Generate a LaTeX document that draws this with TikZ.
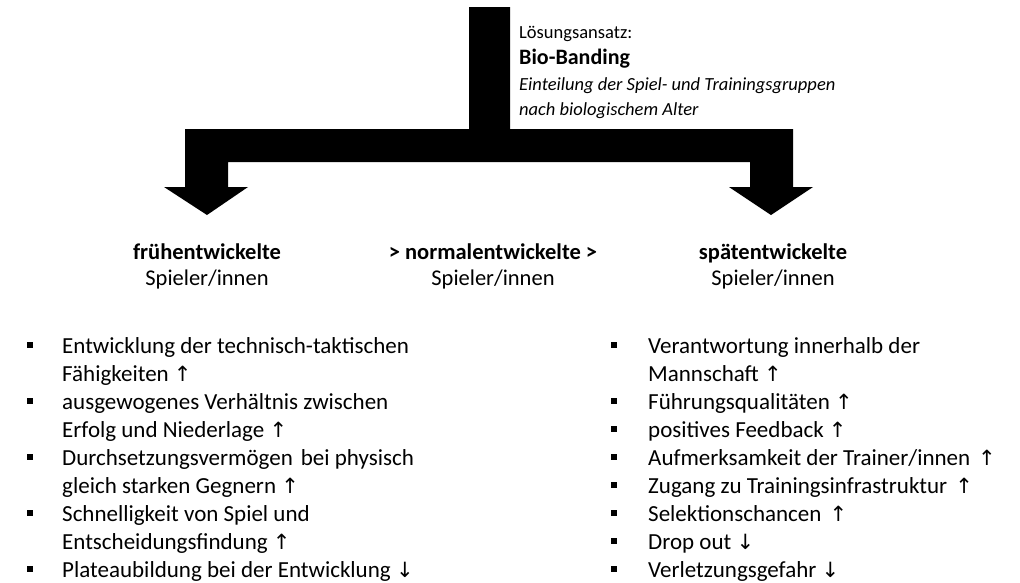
\documentclass[tikz,border=0pt]{standalone}
\usepackage{fontspec}
\setmainfont{Carlito}
\newfontfamily\arrowfont{DejaVu Sans}
\newcommand{\arrUp}{{\arrowfont\fontsize{21}{21}\selectfont\char"2191}}
\newcommand{\arrDn}{{\arrowfont\fontsize{21}{21}\selectfont\char"2193}}
\tikzset{
  lst/.style={anchor=base west, inner sep=0pt, font=\fontsize{23}{27}\selectfont},
  bul/.style={fill=black, minimum size=6.5pt, inner sep=0pt},
  lbl/.style={anchor=base, inner sep=0pt, font=\fontsize{22.5}{27}\selectfont},
  headtxt/.style={anchor=base west, inner sep=0pt, font=\fontsize{18.5}{22}\selectfont},
  bigarrow/.style={fill=black},
}
\begin{document}
\begin{tikzpicture}[x=1pt,y=-1pt]
\useasboundingbox (0,0) rectangle (1020,582);
% T-shaped splitting arrow
\fill[bigarrow] (469,7) -- (510,7) -- (510,129) -- (793,129) -- (793,187) -- (813,187)
  -- (771,215) -- (729,187) -- (750,187) -- (750,162) -- (228,162) -- (228,187)
  -- (248,187) -- (207,215) -- (164,187) -- (185,187) -- (185,129) -- (469,129) -- cycle;
% heading text
\node[headtxt] (h1) at (519,38) {Lösungsansatz:};
\node[headtxt, font=\fontsize{22}{26}\selectfont\bfseries] (h2) at (519,64) {Bio-Banding};
\node[headtxt, font=\fontsize{18.5}{22}\selectfont\itshape] (h3) at (519,90) {Einteilung der Spiel- und Trainingsgruppen};
\node[headtxt, font=\fontsize{18.5}{22}\selectfont\itshape] (h4) at (519,115) {nach biologischem Alter};
% group labels
\node[lbl, font=\fontsize{22.5}{27}\selectfont\bfseries] (g1a) at (207,259) {frühentwickelte};
\node[lbl] (g1b) at (207,285) {Spieler/innen};
\node[lbl, font=\fontsize{22.5}{27}\selectfont\bfseries] (g2a) at (493,259) {> normalentwickelte >};
\node[lbl] (g2b) at (493,285) {Spieler/innen};
\node[lbl, font=\fontsize{22.5}{27}\selectfont\bfseries] (g3a) at (773,259) {spätentwickelte};
\node[lbl] (g3b) at (773,285) {Spieler/innen};
% left list
\node[bul] (lb1) at (30,345) {};
\node[lst] (l1) at (62,353.5) {Entwicklung der technisch-taktischen};
\node[lst] (l2) at (62,381.5) {Fähigkeiten \arrUp};
\node[bul] (lb2) at (30,401) {};
\node[lst] (l3) at (62,409.5) {ausgewogenes Verhältnis zwischen};
\node[lst] (l4) at (62,437.5) {Erfolg und Niederlage \arrUp};
\node[bul] (lb3) at (30,457) {};
\node[lst] (l5) at (62,465.5) {Durchsetzungsvermögen\hspace{0.35em}bei physisch};
\node[lst] (l6) at (62,493.5) {gleich starken Gegnern \arrUp};
\node[bul] (lb4) at (30,513) {};
\node[lst] (l7) at (62,521.5) {Schnelligkeit von Spiel und};
\node[lst] (l8) at (62,549.5) {Entscheidungsfindung \arrUp};
\node[bul] (lb5) at (30,569) {};
\node[lst] (l9) at (62,577.5) {Plateaubildung bei der Entwicklung \arrDn};
% right list
\node[bul] (rb1) at (614,345) {};
\node[lst] (r1) at (648,353.5) {Verantwortung innerhalb der};
\node[lst] (r2) at (648,381.5) {Mannschaft \arrUp};
\node[bul] (rb2) at (614,401) {};
\node[lst] (r3) at (648,409.5) {Führungsqualitäten \arrUp};
\node[bul] (rb3) at (614,429) {};
\node[lst] (r4) at (648,437.5) {positives Feedback \arrUp};
\node[bul] (rb4) at (614,457) {};
\node[lst] (r5) at (648,465.5) {Aufmerksamkeit der Trainer/innen\hspace{0.35em}\arrUp};
\node[bul] (rb5) at (614,485) {};
\node[lst] (r6) at (648,493.5) {Zugang zu Trainingsinfrastruktur\hspace{0.35em}\arrUp};
\node[bul] (rb6) at (614,513) {};
\node[lst] (r7) at (648,521.5) {Selektionschancen\hspace{0.35em}\arrUp};
\node[bul] (rb7) at (614,541) {};
\node[lst] (r8) at (648,549.5) {Drop out \arrDn};
\node[bul] (rb8) at (614,569) {};
\node[lst] (r9) at (648,577.5) {Verletzungsgefahr \arrDn};
\end{tikzpicture}
\end{document}
